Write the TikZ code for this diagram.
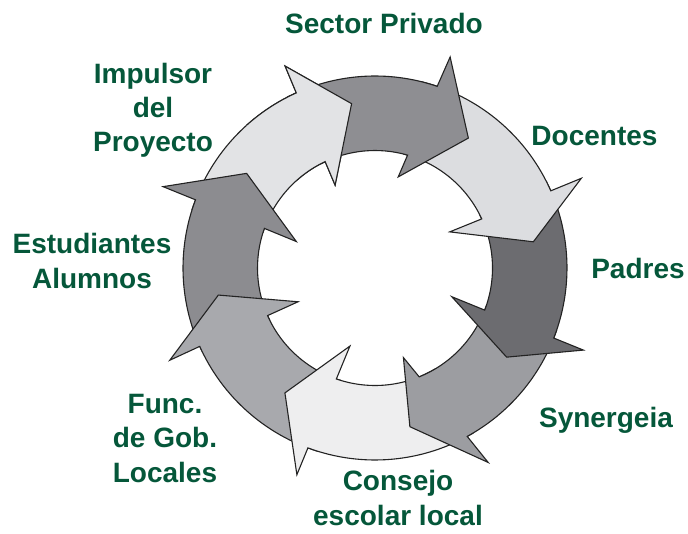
\documentclass[tikz,border=0pt]{standalone}
\usepackage{fontspec}
\setmainfont{Liberation Sans}
\definecolor{tgreen}{RGB}{5,87,58}
\definecolor{edgec}{RGB}{35,35,35}
\definecolor{cA}{RGB}{142,142,146}
\definecolor{cB}{RGB}{220,221,224}
\definecolor{cC}{RGB}{108,108,112}
\definecolor{cD}{RGB}{156,157,161}
\definecolor{cE}{RGB}{238,238,239}
\definecolor{cF}{RGB}{168,169,173}
\definecolor{cG}{RGB}{140,140,144}
\definecolor{cH}{RGB}{226,227,229}
\begin{document}
\begin{tikzpicture}[x=1pt,y=1pt,
  ringarrow/.style={draw=edgec, line width=1.1pt, line join=miter},
  labeltxt/.style={font=\fontsize{28}{34.5}\selectfont\bfseries, text=tgreen, align=center, anchor=base, inner sep=0pt}]
\useasboundingbox (-375,-265) rectangle (313,268);
% Impulsor (drawn first, its head is redrawn at the end)
\draw[ringarrow, fill=cH] (162.3:192) arc[start angle=162.3, end angle=114.2, radius=192] -- (114.0:221) -- (98.1:166) -- (115.7:92) -- (115.1:117.5) arc[start angle=115.1, end angle=162.3, radius=117.5] -- cycle;
% Estudiantes
\draw[ringarrow, fill=cG] (206.1:192) arc[start angle=206.1, end angle=159.2, radius=192] -- (159.0:227) -- (143.6:159.5) -- (161.4:83) -- (160.3:117.5) arc[start angle=160.3, end angle=206.1, radius=117.5] -- cycle;
% Func
\draw[ringarrow, fill=cF] (252.8:192) arc[start angle=252.8, end angle=204.1, radius=192] -- (204.2:225) -- (189.8:159) -- (203.7:84) -- (203.9:117.5) arc[start angle=203.9, end angle=252.8, radius=117.5] -- cycle;
% Consejo
\draw[ringarrow, fill=cE] (300.7:192) arc[start angle=300.7, end angle=249.55, radius=192] -- (249.3:221) -- (234.2:154) -- (252.2:82) -- (250.8:117.5) arc[start angle=250.8, end angle=300.7, radius=117.5] -- cycle;
% Synergeia
\draw[ringarrow, fill=cD] (341.0:192) arc[start angle=341.0, end angle=298.7, radius=192] -- (300.2:225) -- (282.4:162.5) -- (287.6:94) -- (292.1:117.5) arc[start angle=292.1, end angle=341.0, radius=117.5] -- cycle;
% Padres
\draw[ringarrow, fill=cC] (26.7:192) arc[start angle=26.7, end angle=-21.4, radius=192] -- (-21.5:224) -- (-34.1:159) -- (-20.5:82) -- (-21.0:117.5) arc[start angle=-21.0, end angle=26.7, radius=117.5] -- cycle;
% Docentes
\draw[ringarrow, fill=cB] (75.9:192) arc[start angle=75.9, end angle=23.7, radius=192] -- (23.5:225) -- (9.4:160.5) -- (25.8:83) -- (24.7:117.5) arc[start angle=24.7, end angle=75.9, radius=117.5] -- cycle;
% Sector Privado
\draw[ringarrow, fill=cA] (117.1:192) arc[start angle=117.1, end angle=71.1, radius=192] -- (70.4:224) -- (54.3:160) -- (75.7:94) -- (73.9:117.5) arc[start angle=73.9, end angle=117.1, radius=117.5] -- cycle;
% Impulsor head again, over the tail of Sector Privado
\begin{scope}
\clip (0,0) -- (88:260) arc[start angle=88, end angle=132, radius=260] -- cycle;
\draw[ringarrow, fill=cH] (162.3:192) arc[start angle=162.3, end angle=114.2, radius=192] -- (114.0:221) -- (98.1:166) -- (115.7:92) -- (115.1:117.5) arc[start angle=115.1, end angle=162.3, radius=117.5] -- cycle;
\end{scope}
% labels (multi-line nodes: base = baseline of the last line)
\node[labeltxt] (sector) at (9,234) {Sector Privado};
\node[labeltxt] (impulsor) at (-222,116) {Impulsor\\del\\Proyecto};
\node[labeltxt] (estud) at (-283,-20) {Estudiantes\\Alumnos};
\node[labeltxt] (func) at (-210,-214) {Func.\\de Gob.\\Locales};
\node[labeltxt] (consejo) at (23,-257) {Consejo\\escolar local};
\node[labeltxt] (synergeia) at (231,-159) {Synergeia};
\node[labeltxt] (padres) at (263,-10) {Padres};
\node[labeltxt] (docentes) at (219.5,122) {Docentes};
\end{tikzpicture}
\end{document}
